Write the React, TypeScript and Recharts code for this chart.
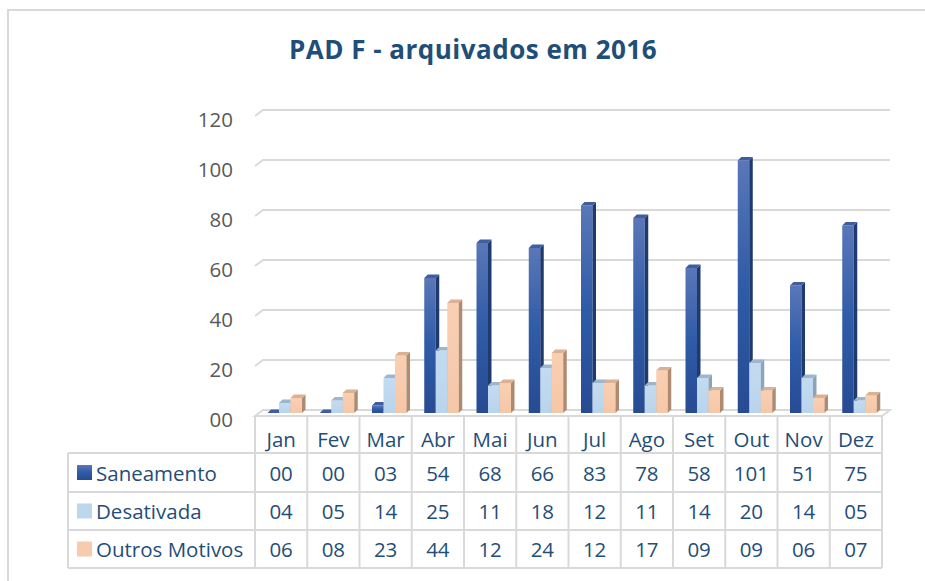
import { Bar, BarChart, CartesianGrid, XAxis, YAxis } from 'recharts'

const months = ['Jan', 'Fev', 'Mar', 'Abr', 'Mai', 'Jun', 'Jul', 'Ago', 'Set', 'Out', 'Nov', 'Dez']
const saneamento = [0, 0, 3, 54, 68, 66, 83, 78, 58, 101, 51, 75]
const desativada = [4, 5, 14, 25, 11, 18, 12, 11, 14, 20, 14, 5]
const outrosMotivos = [6, 8, 23, 44, 12, 24, 12, 17, 9, 9, 6, 7]
const yTicks = [0, 20, 40, 60, 80, 100, 120]

const series = [
  { key: 'saneamento', name: 'Saneamento', values: saneamento, top: '#3f5d9f', side: '#1f3a6e', grad: 'gSan', swatch: 'url(#gSan)' },
  { key: 'desativada', name: 'Desativada', values: desativada, top: '#9db6cf', side: '#8ba4bc', grad: 'gDes', swatch: '#bdd7ee' },
  { key: 'outros', name: 'Outros Motivos', values: outrosMotivos, top: '#dcb092', side: '#ad8a70', grad: 'gOut', swatch: '#f8cbad' },
]

const data = months.map((m, i) => ({
  month: m,
  saneamento: saneamento[i],
  desativada: desativada[i],
  outros: outrosMotivos[i],
}))

const W = 925
const H = 581
const M = { top: 113, right: 43, bottom: 168, left: 195 }
const PLOT_L = M.left + 60
const PLOT_R = W - M.right
const PLOT_B = H - M.bottom
const COL_W = (PLOT_R - PLOT_L) / months.length
const GRID = '#d9d9d9'
const TEXT = '#1f4e79'
const FONT = '"Open Sans", sans-serif'

// depth of the fake 3D boxes
const DX = 3.5
const DY = 3.5

const make3D = (s: (typeof series)[number]) => (props: any) => {
  const { x, y, width, height } = props
  const bx = x + 3.5
  const base = y + height
  const r = bx + width
  return (
    <g>
      <rect x={bx} y={y} width={width} height={height} fill={`url(#${s.grad})`} />
      <polygon points={`${r},${y} ${r + DX},${y - DY} ${r + DX},${base - DY} ${r},${base}`} fill={s.side} />
      <polygon points={`${bx},${y} ${bx + DX},${y - DY} ${r + DX},${y - DY} ${r},${y}`} fill={s.top} />
    </g>
  )
}

const gridLine = (p: any) => {
  const { x1, x2, y1, key } = p
  const d = 8
  if (Math.abs(y1 - PLOT_B) < 1) {
    return (
      <path
        key={key}
        d={`M${x1},${y1 + 3} L${x1 + d},${y1 - 3} L${x2 + d},${y1 - 3} L${x2},${y1 + 3} Z`}
        fill="none"
        stroke={GRID}
        strokeWidth={2}
      />
    )
  }
  return (
    <path
      key={key}
      d={`M${x1},${y1 + 3} L${x1 + d},${y1 - 3} L${x2 + d},${y1 - 3}`}
      fill="none"
      stroke={GRID}
      strokeWidth={2}
    />
  )
}

const YTick = ({ x, y, payload }: any) => (
  <text x={x} y={y + 6} textAnchor="end" dominantBaseline="central" fill="#595959" fontSize={20.5} fontFamily={FONT}>
    {payload.value === 0 ? '00' : payload.value}
  </text>
)

const pad = (v: number) => String(v).padStart(2, '0')

function DataTable() {
  const rowY = [416, 453, 492, 530, 568]
  const legendL = 68
  return (
    <svg width={W} height={H} style={{ position: 'absolute', left: 0, top: 0 }}>
      {months.map((m, i) => (
        <line key={'v' + i} x1={PLOT_L + i * COL_W} x2={PLOT_L + i * COL_W} y1={416} y2={568} stroke={GRID} strokeWidth={2} />
      ))}
      <line x1={PLOT_R} x2={PLOT_R} y1={416} y2={568} stroke={GRID} strokeWidth={2} />
      <line x1={legendL} x2={legendL} y1={453} y2={568} stroke={GRID} strokeWidth={2} />
      {rowY.slice(1).map((y) => (
        <line key={'h' + y} x1={legendL} x2={PLOT_R} y1={y} y2={y} stroke={GRID} strokeWidth={2} />
      ))}
      {months.map((m, i) => (
        <text key={'m' + i} x={PLOT_L + (i + 0.5) * COL_W} y={439} textAnchor="middle" dominantBaseline="central" fill={TEXT} fontSize={20.5} fontFamily={FONT}>
          {m}
        </text>
      ))}
      {series.map((s, r) => {
        const cy = (rowY[r + 1] + rowY[r + 2]) / 2
        return (
          <g key={s.key}>
            <rect x={77} y={cy - 7.5} width={15} height={15} fill={s.swatch} />
            <text x={96} y={cy} dominantBaseline="central" fill={TEXT} fontSize={20.5} fontFamily={FONT}>
              {s.name}
            </text>
            {s.values.map((v, i) => (
              <text key={i} x={PLOT_L + (i + 0.5) * COL_W} y={cy} textAnchor="middle" dominantBaseline="central" fill={TEXT} fontSize={20.5} fontFamily={FONT}>
                {pad(v)}
              </text>
            ))}
          </g>
        )
      })}
    </svg>
  )
}

export default function App() {
  return (
    <div style={{ position: 'relative', width: W, height: H, overflow: 'hidden', background: '#fff' }}>
      <style>{'body{margin:0}'}</style>
      <div style={{ position: 'absolute', left: 7, top: 9, width: 940, height: 620, border: `2px solid ${GRID}` }} />
      <div
        style={{
          position: 'absolute',
          left: 8,
          width: 930,
          top: 36,
          textAlign: 'center',
          fontFamily: FONT,
          fontWeight: 700,
          fontSize: 26,
          letterSpacing: 0.5,
          lineHeight: '26px',
          color: TEXT,
        }}
      >
        PAD F - arquivados em 2016
      </div>
      <div style={{ position: 'absolute', left: 0, top: 0 }}>
        <BarChart width={W} height={H} data={data} margin={M} barGap={0} barSize={11.5}>
          <defs>
            <linearGradient id="gSan" x1="0" y1="0" x2="0" y2="1">
              <stop offset="0%" stopColor="#5a77b8" />
              <stop offset="50%" stopColor="#2f5ba7" />
              <stop offset="100%" stopColor="#274b93" />
            </linearGradient>
            <linearGradient id="gDes" x1="0" y1="0" x2="0" y2="1">
              <stop offset="0%" stopColor="#c3dbf0" />
              <stop offset="100%" stopColor="#b8d4ec" />
            </linearGradient>
            <linearGradient id="gOut" x1="0" y1="0" x2="0" y2="1">
              <stop offset="0%" stopColor="#f9cfb2" />
              <stop offset="100%" stopColor="#f6c7a7" />
            </linearGradient>
          </defs>
          <CartesianGrid vertical={false} horizontal={gridLine} />
          <XAxis dataKey="month" hide />
          <YAxis
            domain={[0, 120]}
            ticks={yTicks}
            width={60}
            axisLine={false}
            tickLine={false}
            tickSize={0}
            tickMargin={22}
            tick={<YTick />}
          />
          {series.map((s) => (
            <Bar key={s.key} dataKey={s.key} name={s.name} shape={make3D(s)} isAnimationActive={false} />
          ))}
        </BarChart>
      </div>
      <DataTable />
    </div>
  )
}
